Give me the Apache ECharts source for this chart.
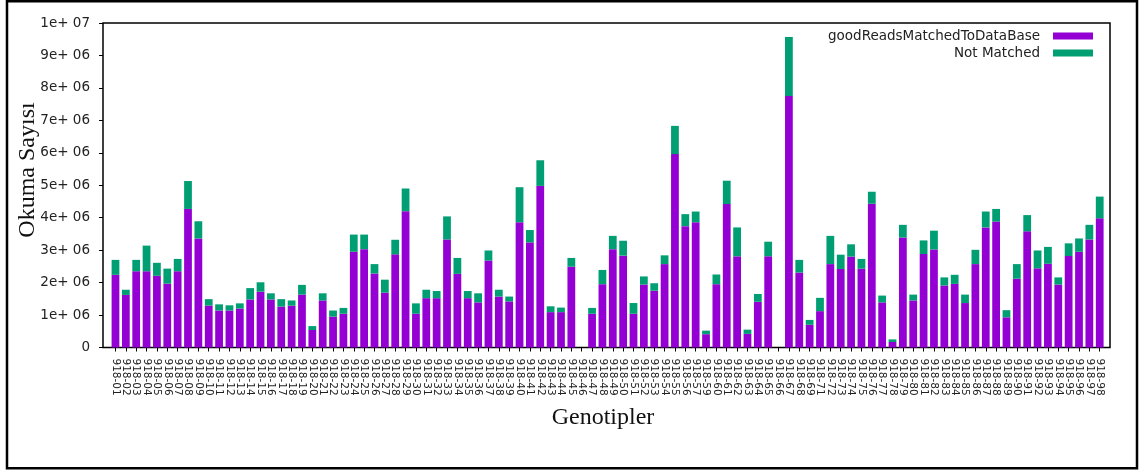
<!DOCTYPE html>
<html><head><meta charset="utf-8">
<script src="https://cdn.jsdelivr.net/npm/echarts@6/dist/echarts.min.js"></script>
<style>html,body{margin:0;padding:0;background:#fff}#c{width:1139px;height:474px}</style>
</head><body><div id="c"></div>
<script>
const categories = [
'918-01','918-02','918-03','918-04','918-05','918-06','918-07','918-08','918-09','918-10',
'918-11','918-12','918-13','918-14','918-15','918-16','918-17','918-18','918-19','918-20',
'918-21','918-22','918-23','918-24','918-25','918-26','918-27','918-28','918-29','918-30',
'918-31','918-32','918-33','918-34','918-35','918-36','918-37','918-38','918-39','918-40',
'918-41','918-42','918-43','918-44','918-45','918-46','918-47','918-48','918-49','918-50',
'918-51','918-52','918-53','918-54','918-55','918-56','918-57','918-59','918-60',
'918-61','918-62','918-63','918-64','918-65','918-66','918-67','918-68','918-69',
'918-71','918-72','918-73','918-74','918-75','918-76','918-77','918-78','918-79','918-80',
'918-81','918-82','918-83','918-84','918-85','918-86','918-87','918-88','918-89','918-90',
'918-91','918-92','918-93','918-94','918-95','918-96','918-97','918-98'];

const matched = [
2240000,1620000,2350000,2350000,2210000,1970000,2350000,4270000,3360000,1290000,
1140000,1140000,1200000,1480000,1720000,1480000,1260000,1290000,1630000,540000,
1450000,950000,1040000,2950000,3030000,2280000,1690000,2870000,4200000,1040000,
1520000,1520000,3330000,2270000,1520000,1390000,2680000,1570000,1420000,3860000,
3240000,4980000,1090000,1090000,2490000,null,1040000,1950000,3030000,2830000,
1040000,1940000,1750000,2570000,5960000,3740000,3860000,410000,1950000,4420000,
2810000,420000,1410000,2810000,null,7750000,2310000,700000,1120000,2570000,
2420000,2800000,2430000,4430000,1390000,170000,3390000,1450000,2880000,3020000,
1910000,1960000,1370000,2570000,3700000,3880000,930000,2120000,3580000,2440000,
2580000,1940000,2820000,2950000,3330000,3980000];

const notMatched = [
460000,160000,350000,790000,400000,460000,380000,860000,530000,200000,
190000,160000,160000,350000,290000,190000,230000,160000,300000,120000,
220000,190000,180000,530000,450000,290000,400000,450000,700000,320000,
260000,220000,710000,490000,220000,280000,310000,210000,150000,1080000,
380000,790000,180000,140000,270000,null,180000,440000,410000,460000,
330000,250000,230000,270000,870000,370000,330000,110000,300000,720000,
890000,130000,240000,450000,null,1820000,390000,150000,410000,870000,
440000,380000,300000,370000,210000,80000,390000,180000,420000,580000,
250000,280000,260000,440000,490000,390000,220000,450000,500000,550000,
520000,220000,390000,410000,450000,670000];

const yTickLabels = ['0','1e+ 06','2e+ 06','3e+ 06','4e+ 06','5e+ 06','6e+ 06','7e+ 06','8e+ 06','9e+ 06','1e+ 07'];
const seriesNames = ['goodReadsMatchedToDataBase','Not Matched'];
const colors = ['#9400d3','#009e73'];

const chart = echarts.init(document.getElementById('c'), null, {renderer:'canvas'});
const sans = 'DejaVu Sans';
chart.setOption({
  animation: false,
  backgroundColor: '#fff',
  color: colors,
  grid: [
    {left: 110.3, right: 34.1, top: 23, bottom: 126.5},
    {left: 103, right: 29, top: 23, bottom: 126.5, show: true, borderColor: '#000', borderWidth: 1.5, backgroundColor: 'transparent'}
  ],
  legend: {
    orient: 'vertical', align: 'right', right: 41, top: 24, itemGap: 3,
    itemWidth: 40, itemHeight: 7, icon: 'rect',
    textStyle: {fontFamily: sans, fontSize: 13.5, color: '#222', padding: [0, 8, 0, 0]},
    data: seriesNames
  },
  xAxis: [
    {type: 'category', gridIndex: 0, data: categories,
     axisLine: {show: false},
     axisTick: {show: true, alignWithLabel: true, length: 4, lineStyle: {color: '#000', width: 1}},
     axisLabel: {interval: 0, rotate: -90, margin: 11, fontFamily: sans, fontSize: 10.5, color: '#222'}},
    {type: 'value', gridIndex: 1, show: false}
  ],
  yAxis: [
    {type: 'value', gridIndex: 0, min: 0, max: 10000000, show: false},
    {type: 'value', gridIndex: 1, min: 0, max: 10000000, interval: 1000000,
     axisLine: {show: false},
     axisTick: {show: true, length: 4, lineStyle: {color: '#000'}},
     splitLine: {show: false},
     axisLabel: {margin: 13, fontFamily: sans, fontSize: 13.5, color: '#222',
       formatter: v => yTickLabels[Math.round(v / 1000000)]}}
  ],
  series: [
    {name: seriesNames[0], type: 'bar', stack: 'total', xAxisIndex: 0, yAxisIndex: 0,
     barWidth: '75%', data: matched, itemStyle: {color: colors[0]}},
    {name: seriesNames[1], type: 'bar', stack: 'total', xAxisIndex: 0, yAxisIndex: 0,
     barWidth: '75%', data: notMatched, itemStyle: {color: colors[1]}}
  ],
  graphic: [
    {type: 'rect', shape: {x: 7, y: 1.25, width: 1130, height: 467}, style: {fill: null, stroke: '#000', lineWidth: 2.5}, silent: true},
    {type: 'text', x: 28, y: 170, rotation: Math.PI / 2,
     style: {text: 'Okuma Sayısı', fontFamily: 'Liberation Serif', fontSize: 24, fill: '#111', align: 'center', verticalAlign: 'middle'}},
    {type: 'text', x: 603, y: 418,
     style: {text: 'Genotipler', fontFamily: 'Liberation Serif', fontSize: 24, fill: '#111', align: 'center', verticalAlign: 'middle'}}
  ]
});
</script></body></html>
